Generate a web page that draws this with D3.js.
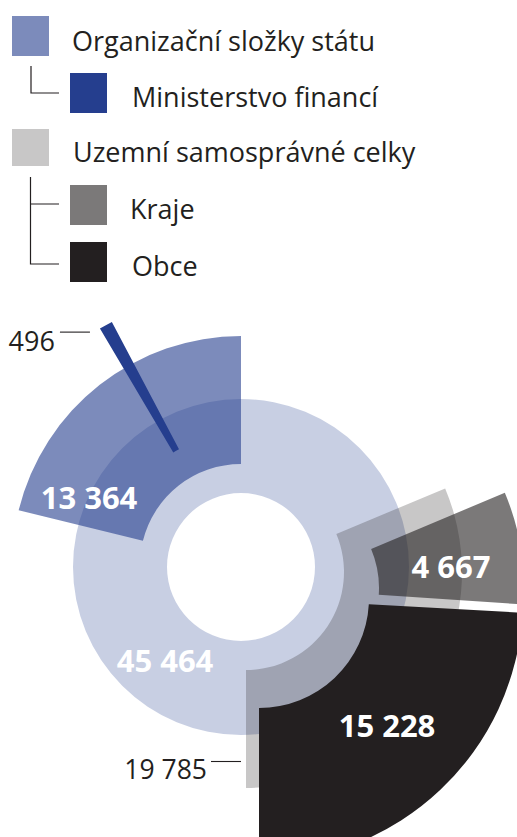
<!DOCTYPE html>
<html>
<head>
<meta charset="utf-8">
<script src="https://cdn.jsdelivr.net/npm/d3@7"></script>
<style>
  html, body { margin: 0; padding: 0; background: #fff; }
  svg { display: block; font-family: "Open Sans", "Noto Sans", sans-serif; }
</style>
</head>
<body>
<svg id="chart" width="517" height="837"></svg>
<script>
// Headcounts: total, main groups and their sub-units
const totalValue = 45464;
const groupNames = ["Organizační složky státu", "Uzemní samosprávné celky"];
const groupValues = [13364, 19785];
const subNames = ["Ministerstvo financí", "Kraje", "Obce"];
const subValues = [496, 4667, 15228];
const subParent = [0, 1, 1];

const svg = d3.select("#chart");
const rad = d => d * Math.PI / 180;
const fmt = v => d3.format(",")(v).replace(/,/g, " ");

// angle given to a value (degrees per 1000 people)
const angle = d3.scaleLinear().domain([0, 1000]).range([0, rad(5.7)]);

const BLUE = "#253e8e", DARK = "#231f20";
const cx = 241, cy = 567;

const arc = d3.arc();
function sector(o) {
  svg.append("path")
    .attr("transform", `translate(${cx + o.dx},${cy + o.dy})`)
    .attr("d", arc({innerRadius: o.r0, outerRadius: o.r1, startAngle: o.a0, endAngle: o.a1}))
    .attr("fill", o.color)
    .attr("fill-opacity", o.op);
}

// full ring = total
sector({dx: 0, dy: 0, r0: 74, r1: 168, a0: 0, a1: 2 * Math.PI, color: BLUE, op: 0.25});

// Organizační složky státu
const orgA = angle(groupValues[0]);
const org = {dx: 0, dy: -2, r0: 101, r1: 229, a0: -orgA, a1: 0, color: BLUE, op: 0.6};
sector(org);

// Ministerstvo financí
const mfA = angle(subValues[0]);
const mfMid = rad(-29.2);
const mf = {dx: 0, dy: 0, r0: 133, r1: 277, a0: mfMid - mfA / 2, a1: mfMid + mfA / 2, color: BLUE, op: 1};
sector(mf);

// Uzemní samosprávné celky
const uzA = angle(groupValues[1]);
const uz = {dx: 5, dy: 5, r0: 98, r1: 216, a0: Math.PI - uzA, a1: Math.PI, color: DARK, op: 0.25};
sector(uz);

// Kraje
const krA = angle(subValues[1]);
const kr = {dx: 37, dy: 21, r0: 101, r1: 246, a0: uz.a0, a1: uz.a0 + krA, color: DARK, op: 0.6};
sector(kr);

// Obce
const obA = angle(subValues[2]);
const ob = {dx: 18, dy: 31, r0: 110, r1: 264, a0: Math.PI - obA, a1: Math.PI, color: DARK, op: 1};
sector(ob);

// value labels inside the sectors
const big = [
  {v: totalValue, x: 165, y: 672},
  {v: groupValues[0], x: 89, y: 509},
  {v: subValues[1], x: 451, y: 578},
  {v: subValues[2], x: 387, y: 737}
];
svg.selectAll("text.big").data(big).join("text")
  .attr("class", "big")
  .attr("x", d => d.x).attr("y", d => d.y)
  .attr("text-anchor", "middle")
  .attr("font-size", 31).attr("font-weight", 700)
  .attr("fill", "#fff")
  .text(d => fmt(d.v));

// outside labels with leader lines
const tipX = cx + mf.dx + mf.r1 * Math.sin(mf.a0);
const tipY = cy + mf.dy - mf.r1 * Math.cos(mf.a0);
svg.append("line").attr("x1", tipX - 40).attr("x2", tipX - 10)
  .attr("y1", tipY + 3.5).attr("y2", tipY + 3.5)
  .attr("stroke", DARK).attr("stroke-width", 1.1);
svg.append("text").attr("x", tipX - 45).attr("y", tipY + 22.5)
  .attr("text-anchor", "end").attr("font-size", 27).attr("fill", DARK)
  .text(fmt(subValues[0]));

const stripY = ((cy + 168) + (cy + uz.dy + uz.r1)) / 2;
const uzLeft = cx + uz.dx;
svg.append("line").attr("x1", uzLeft - 35).attr("x2", uzLeft - 5)
  .attr("y1", stripY).attr("y2", stripY)
  .attr("stroke", DARK).attr("stroke-width", 1.1);
svg.append("text").attr("x", uzLeft - 39).attr("y", stripY + 17)
  .attr("text-anchor", "end").attr("font-size", 26.5).attr("fill", DARK)
  .text(fmt(groupValues[1]));

// legend
const legend = [
  {name: groupNames[0], color: BLUE, op: 0.6, x: 12, y: 16, h: 40, tx: 72, ty: 51},
  {name: subNames[0], color: BLUE, op: 1, x: 70, y: 73, h: 40, tx: 132, ty: 107},
  {name: groupNames[1], color: DARK, op: 0.25, x: 12, y: 129, h: 37, tx: 73, ty: 162},
  {name: subNames[1], color: DARK, op: 0.6, x: 70, y: 185, h: 40, tx: 130, ty: 219},
  {name: subNames[2], color: DARK, op: 1, x: 70, y: 242, h: 40, tx: 132, ty: 276}
];
const lg = svg.append("g");
lg.selectAll("rect").data(legend).join("rect")
  .attr("x", d => d.x).attr("y", d => d.y)
  .attr("width", 37).attr("height", d => d.h)
  .attr("fill", d => d.color).attr("fill-opacity", d => d.op);
lg.selectAll("text").data(legend).join("text")
  .attr("x", d => d.tx).attr("y", d => d.ty)
  .attr("font-size", 27).attr("fill", DARK)
  .text(d => d.name);
lg.append("path")
  .attr("d", "M31,66V93H59 M30.5,177V264H59 M30.5,204H59")
  .attr("fill", "none").attr("stroke", DARK).attr("stroke-width", 1.2);
</script>
</body>
</html>
